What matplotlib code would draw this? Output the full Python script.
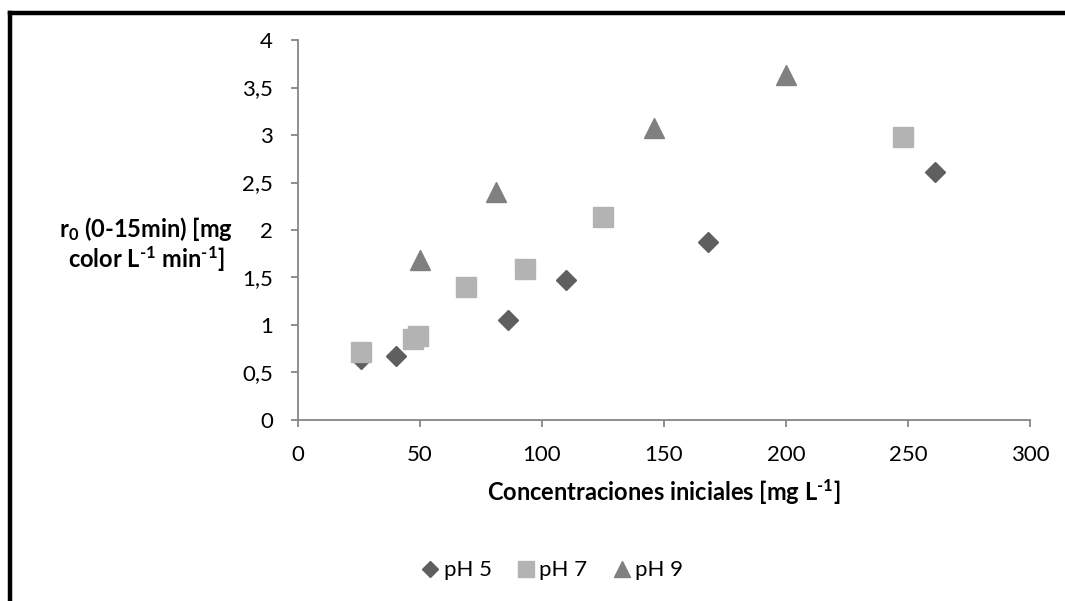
import numpy as np
import matplotlib
matplotlib.use('Agg')
import matplotlib.pyplot as plt
from matplotlib.lines import Line2D

plt.rcParams['font.family'] = ['Lato', 'DejaVu Sans']
plt.rcParams['mathtext.fontset'] = 'custom'
plt.rcParams['mathtext.rm'] = 'Lato'
plt.rcParams['mathtext.bf'] = 'Lato:bold'
plt.rcParams['mathtext.it'] = 'Lato:italic'

# data
ph5_x = [26, 40, 86, 110, 168, 261]
ph5_y = [0.64, 0.67, 1.05, 1.47, 1.87, 2.61]

ph7_x = [26, 47, 49, 69, 93, 125, 248]
ph7_y = [0.72, 0.85, 0.88, 1.40, 1.59, 2.14, 2.98]

ph9_x = [50, 81, 146, 200]
ph9_y = [1.68, 2.40, 3.07, 3.63]

x_ticks = [0, 50, 100, 150, 200, 250, 300]
y_ticks = [0, 0.5, 1, 1.5, 2, 2.5, 3, 3.5, 4]
y_tick_labels = ['0', '0,5', '1', '1,5', '2', '2,5', '3', '3,5', '4']

axis_grey = '#868686'
hy = '\u2010'  # short hyphen for the exponents

fig = plt.figure(figsize=(10.65, 6.01), dpi=100)
ax = fig.add_axes([0.2798, 0.3012, 0.9671 - 0.2798, 0.9334 - 0.3012])

ax.plot(ph5_x, ph5_y, linestyle='none', marker='D', markersize=10,
        color='#5f5f5f', label='pH 5')
ax.plot(ph7_x, ph7_y, linestyle='none', marker='s', markersize=14,
        color='#b3b3b3', label='pH 7')
ax.plot(ph9_x, ph9_y, linestyle='none', marker='^', markersize=14,
        color='#808080', label='pH 9')

ax.set_xlim(0, 300)
ax.set_ylim(0, 4)
ax.set_xticks(x_ticks)
ax.set_yticks(y_ticks)
ax.set_yticklabels(y_tick_labels)

for side in ['top', 'right']:
    ax.spines[side].set_visible(False)
for side in ['left', 'bottom']:
    ax.spines[side].set_color(axis_grey)
    ax.spines[side].set_linewidth(1.3)
ax.tick_params(axis='both', direction='out', length=5, width=1.3,
               color=axis_grey, labelsize=16, pad=13)

ax.set_xlabel('Concentraciones iniciales [mg L$^{\\mathbf{' + hy + '1}}$]',
              fontsize=17, fontweight='bold', labelpad=9)

fig.text(0.137, 0.594,
         r'$\mathbf{r_0}$ (0-15min) [mg' + '\n'
         + 'color L$^{\\mathbf{' + hy + '1}}$ min$^{\\mathbf{' + hy + '1}}$]',
         fontsize=17, fontweight='bold', ha='center', va='center',
         linespacing=1.05)

ax.legend(loc='center', bbox_to_anchor=(0.517, 0.051), bbox_transform=fig.transFigure,
          ncol=3, frameon=False, fontsize=16, handletextpad=0.05,
          columnspacing=1.0, markerscale=0.8, handlelength=1.1)

# black frame on top and left edges
fig.add_artist(Line2D([0.0094, 1.0], [0.9784, 0.9784], transform=fig.transFigure,
                      color='black', linewidth=3.2))
fig.add_artist(Line2D([0.0094, 0.0094], [0.0, 0.9784], transform=fig.transFigure,
                      color='black', linewidth=3.2))

fig.savefig('out.png', dpi=100)
